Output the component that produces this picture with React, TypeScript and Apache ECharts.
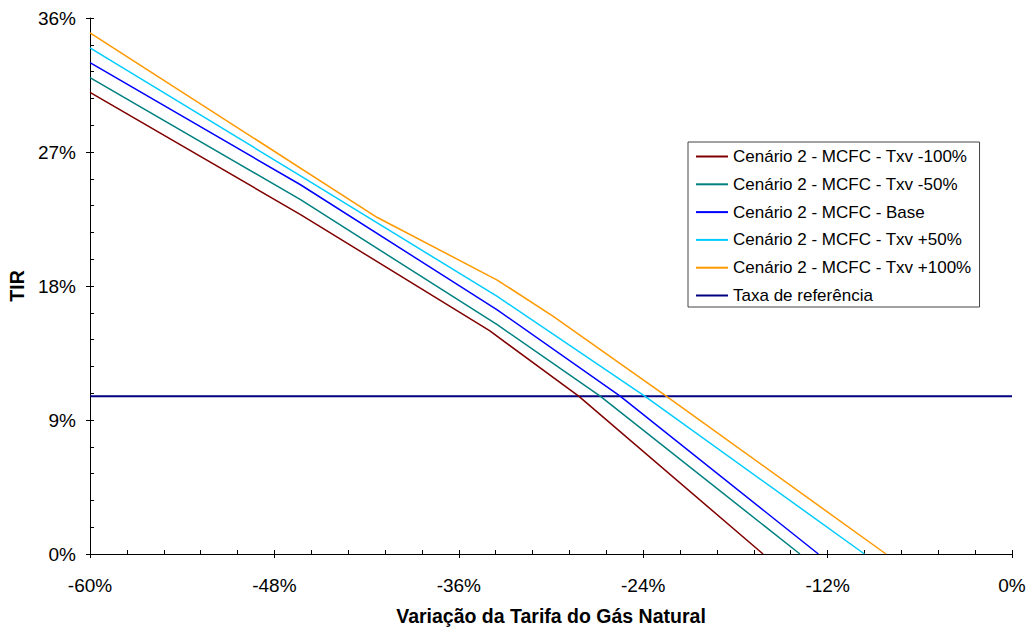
import React, { useEffect, useRef } from "react";
import * as echarts from "echarts";

const seriesNames = [
  "Cenário 2 - MCFC - Txv -100%",
  "Cenário 2 - MCFC - Txv -50%",
  "Cenário 2 - MCFC - Base",
  "Cenário 2 - MCFC - Txv +50%",
  "Cenário 2 - MCFC - Txv +100%",
  "Taxa de referência",
];
const seriesColors = ["#800000", "#008080", "#0000FF", "#00CCFF", "#FF9900", "#000080"];

const xTxvM100 = [-60, -46.3, -34.0, -28.2, -16.2];
const yTxvM100 = [31.0, 22.8, 15.0, 10.6, 0];
const xTxvM50 = [-60, -46.3, -33.5, -26.8, -13.8];
const yTxvM50 = [32.0, 23.8, 15.4, 10.6, 0];
const xBase = [-60, -46.3, -33.5, -25.5, -12.6];
const yBase = [33.0, 24.8, 16.4, 10.6, 0];
const xTxvP50 = [-60, -46.3, -33.5, -23.9, -9.6];
const yTxvP50 = [34.0, 25.4, 17.3, 10.6, 0];
const xTxvP100 = [-60, -41.3, -33.5, -29.9, -22.5, -8.2];
const yTxvP100 = [35.0, 22.6, 18.4, 16.0, 10.6, 0];
const xRef = [-60, 0];
const yRef = [10.6, 10.6];

const xTicks = { min: -60, max: 0, interval: 12 };
const yTicks = { min: 0, max: 36, interval: 9 };

const FONT = "'Liberation Sans', Arial, sans-serif";

function zip(xs: number[], ys: number[]) {
  return xs.map((x, i) => [x, ys[i]]);
}

export default function App() {
  const ref = useRef<HTMLDivElement>(null);
  useEffect(() => {
    document.body.style.margin = "0";
    if (!ref.current) return;
    const chart = echarts.init(ref.current, null, { renderer: "svg" });
    const allX = [xTxvM100, xTxvM50, xBase, xTxvP50, xTxvP100, xRef];
    const allY = [yTxvM100, yTxvM50, yBase, yTxvP50, yTxvP100, yRef];
    const black = { color: "#000", width: 1 };
    chart.setOption({
      animation: false,
      backgroundColor: "#fff",
      grid: {
        left: 90,
        right: 17,
        top: 18,
        bottom: 75,
        containLabel: false,
        outerBoundsMode: "none",
      },
      legend: {
        orient: "vertical",
        left: 688,
        top: 142,
        data: seriesNames,
        itemWidth: 32,
        itemHeight: 14,
        itemGap: 10.8,
        padding: [6, 8, 3, 7],
        borderColor: "#444",
        borderWidth: 1,
        backgroundColor: "#fff",
        itemStyle: { opacity: 0 },
        textStyle: { fontFamily: FONT, fontSize: 17, color: "#000" },
      },
      xAxis: [
        {
          type: "value",
          ...xTicks,
          position: "bottom",
          axisLine: { show: true, onZero: false, lineStyle: black },
          axisTick: { show: true, inside: true, length: 4, lineStyle: black },
          minorTick: { show: true, splitNumber: 5, length: 4, lineStyle: black },
          splitLine: { show: false },
          axisLabel: {
            formatter: (v: number) => `${v}%`,
            margin: 22,
            color: "#000",
            fontSize: 19,
            fontFamily: FONT,
          },
          name: "Variação da Tarifa do Gás Natural",
          nameLocation: "middle",
          nameGap: 52,
          nameTextStyle: { fontFamily: FONT, fontSize: 19.5, fontWeight: "bold", color: "#000" },
        },
        {
          type: "value",
          ...xTicks,
          position: "bottom",
          axisLine: { show: false, onZero: false },
          axisTick: { show: true, inside: false, length: 4, lineStyle: black },
          axisLabel: { show: false },
          splitLine: { show: false },
        },
      ],
      yAxis: [
        {
          type: "value",
          ...yTicks,
          position: "left",
          axisLine: { show: true, onZero: false, lineStyle: black },
          axisTick: { show: true, inside: true, length: 4, lineStyle: black },
          minorTick: { show: true, splitNumber: 5, length: 4, lineStyle: black },
          splitLine: { show: false },
          axisLabel: {
            formatter: (v: number) => `${v}%`,
            margin: 14,
            color: "#000",
            fontSize: 19,
            fontFamily: FONT,
          },
          name: "TIR",
          nameLocation: "middle",
          nameGap: 63,
          nameTextStyle: { fontFamily: FONT, fontSize: 19.5, fontWeight: "bold", color: "#000" },
        },
        {
          type: "value",
          ...yTicks,
          position: "left",
          axisLine: { show: false, onZero: false },
          axisTick: { show: true, inside: false, length: 4, lineStyle: black },
          axisLabel: { show: false },
          splitLine: { show: false },
        },
      ],
      series: seriesNames.map((name, i) => ({
        name,
        type: "line",
        xAxisIndex: 0,
        yAxisIndex: 0,
        data: zip(allX[i], allY[i]),
        symbol: "none",
        color: seriesColors[i],
        lineStyle: { color: seriesColors[i], width: i === 5 ? 2 : 1.5 },
        z: i === 5 ? 1 : 2,
      })),
    });
    return () => chart.dispose();
  }, []);
  return (
    <div
      ref={ref}
      style={{ position: "absolute", left: 0, top: 0, width: 1029, height: 629 }}
    />
  );
}
